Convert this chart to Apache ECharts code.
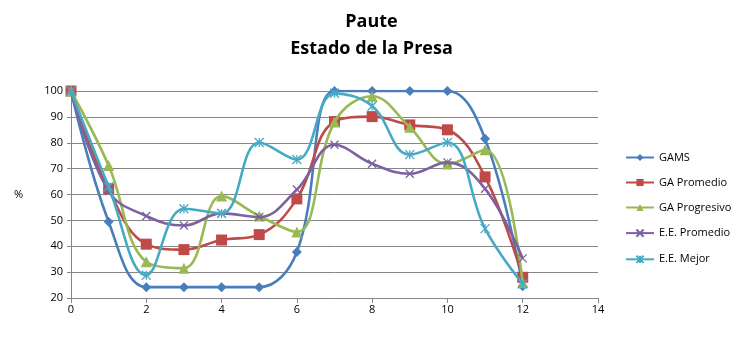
<!DOCTYPE html>
<html>
<head>
    <meta charset="utf-8">
    <title>Paute</title>
    <script src="https://cdn.jsdelivr.net/npm/echarts@6/dist/echarts.min.js"></script>
</head>
<body style="margin:0">
<div id="chart" style="width:743px;height:340px;"></div>
<script>
// x positions (stage)
var xs = [0, 1, 2, 3, 4, 5, 6, 7, 8, 9, 10, 11, 12];

var gams        = [100, 49.5, 24.2, 24.2, 24.2, 24.2, 37.8, 100, 100, 100, 100, 81.5, 24.5];
var gaPromedio  = [100, 62.2, 40.8, 38.7, 42.4, 44.5, 58.3, 88.2, 90.1, 86.9, 85.0, 66.8, 28.0];
var gaProgres   = [100, 71.2, 34.0, 31.5, 59.4, 51.7, 45.5, 88.0, 98.0, 86.0, 71.8, 77.3, 26.0];
var eePromedio  = [100, 61.3, 51.7, 48.0, 52.7, 51.3, 61.9, 79.2, 71.9, 68.0, 72.4, 62.2, 35.3];
var eeMejor     = [100, 63.0, 28.8, 54.5, 52.7, 80.1, 73.5, 99.1, 94.2, 75.4, 80.1, 46.8, 25.4];

var names = ['GAMS', 'GA Promedio', 'GA Progresivo', 'E.E. Promedio', 'E.E. Mejor'];
var colors = ['#4A7EBB', '#BE4B48', '#98B954', '#7D60A0', '#46AAC5'];

function pairs(arr) {
    return arr.map(function (v, i) { return [xs[i], v]; });
}

var symX = 'path://M0,0L10,10M10,0L0,10';
var symStar = 'path://M0,0L10,10M10,0L0,10M5,0L5,10';

function mk(i, data, symbol, size, stroke) {
    return {
        name: names[i], type: 'line', data: pairs(data),
        smooth: 0.4, symbol: symbol, symbolSize: size,
        lineStyle: {width: 2.6, color: colors[i]},
        itemStyle: stroke ? {color: 'none', borderColor: colors[i], borderWidth: 1.3}
                          : {color: colors[i]},
        z: 2 + i
    };
}

var chart = echarts.init(document.getElementById('chart'));
chart.setOption({
    animation: false,
    title: {
        text: 'Paute\nEstado de la Presa', left: 'center', top: 3,
        textStyle: {fontFamily: 'Open Sans', fontWeight: 'bold', fontSize: 18, lineHeight: 27, color: '#000'}
    },
    grid: {left: 71, right: 145, top: 91, bottom: 42},
    legend: {
        orient: 'vertical', left: 620, top: 147, itemGap: 14, itemWidth: 28, itemHeight: 9,
        textStyle: {fontFamily: 'Open Sans', fontSize: 11, color: '#000'},
        data: names
    },
    xAxis: {
        type: 'value', min: 0, max: 14, interval: 2,
        axisLine: {lineStyle: {color: '#868686'}},
        axisTick: {show: true, length: 5, lineStyle: {color: '#868686'}},
        axisLabel: {color: '#000', fontSize: 11, fontFamily: 'Open Sans', margin: 6},
        splitLine: {show: false}
    },
    yAxis: {
        type: 'value', min: 20, max: 100, interval: 10,
        name: '%', nameLocation: 'middle', nameRotate: 0, nameGap: 48,
        nameTextStyle: {color: '#000', fontSize: 11, fontFamily: 'Open Sans'},
        axisLine: {show: true, lineStyle: {color: '#868686'}},
        axisTick: {show: true, length: 4, lineStyle: {color: '#868686'}},
        axisLabel: {color: '#000', fontSize: 11, fontFamily: 'Open Sans', margin: 8},
        splitLine: {lineStyle: {color: '#868686', width: 1}}
    },
    series: [
        mk(0, gams, 'diamond', 10, false),
        mk(1, gaPromedio, 'rect', 11, false),
        mk(2, gaProgres, 'triangle', 11, false),
        mk(3, eePromedio, symX, 8, true),
        mk(4, eeMejor, symStar, 9, true)
    ]
});
</script>
</body>
</html>
